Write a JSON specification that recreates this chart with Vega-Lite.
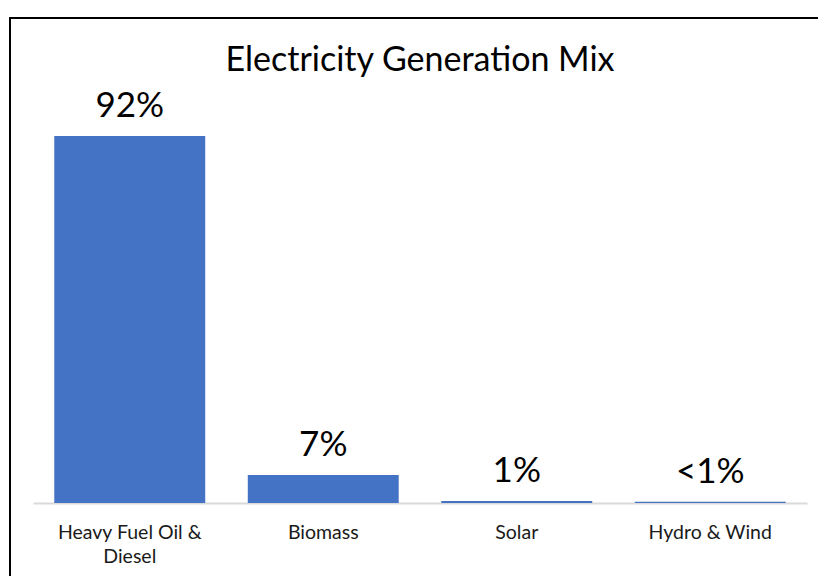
{
  "$schema": "https://vega.github.io/schema/vega-lite/v6.json",
  "autosize": {"type": "none"},
  "padding": {"left": 10, "top": 18, "right": 0, "bottom": 0},
  "width": 820,
  "height": 600,
  "background": "white",
  "config": {"view": {"stroke": "black", "strokeWidth": 2}},
  "title": {
    "text": "Electricity Generation Mix",
    "font": "Lato",
    "fontSize": 34,
    "fontWeight": "normal",
    "color": "black",
    "anchor": "middle",
    "baseline": "alphabetic",
    "offset": -52,
    "dy": 35
  },
  "data": {
    "values": [
      {"source": "Heavy Fuel Oil & Diesel", "share": 92, "label": "92%"},
      {"source": "Biomass", "share": 7, "label": "7%"},
      {"source": "Solar", "share": 0.5, "label": "1%"},
      {"source": "Hydro & Wind", "share": 0.3, "label": "<1%"}
    ]
  },
  "encoding": {
    "x": {
      "field": "source",
      "type": "nominal",
      "sort": null,
      "scale": {"range": [23, 797], "paddingInner": 0.22, "paddingOuter": 0.11},
      "axis": {
        "title": null,
        "orient": "bottom",
        "offset": -115,
        "labelAngle": 0,
        "ticks": false,
        "domainColor": "#d9d9d9",
        "domainWidth": 2,
        "labelFont": "Lato",
        "labelFontSize": 19.5,
        "labelColor": "#1a1a1a",
        "labelPadding": 20,
        "labelLineHeight": 24,
        "labelExpr": "datum.label == 'Heavy Fuel Oil & Diesel' ? ['Heavy Fuel Oil &', 'Diesel'] : datum.label"
      }
    },
    "y": {
      "field": "share",
      "type": "quantitative",
      "scale": {"domain": [0, 100], "range": [485, 86], "nice": false},
      "axis": null
    }
  },
  "layer": [
    {"mark": {"type": "bar", "color": "#4472C4"}},
    {
      "mark": {"type": "text", "font": "Lato", "fontSize": 35, "color": "black", "baseline": "alphabetic", "dy": -19},
      "encoding": {"text": {"field": "label"}}
    }
  ]
}
